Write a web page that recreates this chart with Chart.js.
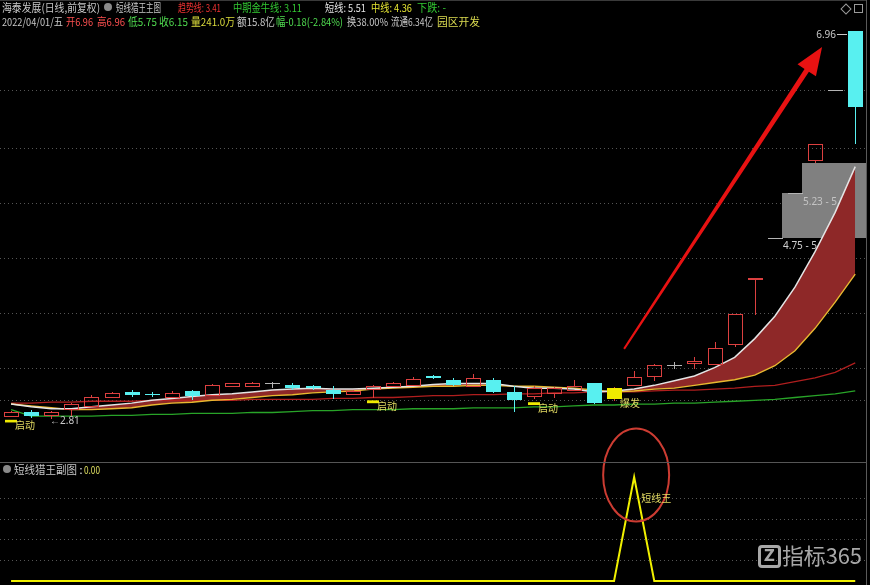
<!DOCTYPE html>
<html lang="zh-CN">
<head>
<meta charset="utf-8">
<title>海泰发展 短线猎王</title>
<script src="https://cdn.jsdelivr.net/npm/chart.js"></script>
<style>
html,body{margin:0;padding:0;background:#000;}
#wrap{position:relative;width:870px;height:585px;background:#000;overflow:hidden;}
#main{position:absolute;left:0;top:0;}
#sub{position:absolute;left:0;top:420px;}
.seg{position:absolute;font-family:"Noto Sans CJK SC","Noto Sans",sans-serif;font-size:11px;line-height:12px;white-space:nowrap;transform-origin:0 0;}
.ln{position:absolute;}
.dot{position:absolute;width:8px;height:8px;border-radius:50%;background:#8a8a8a;}
</style>
</head>
<body>
<div id="wrap">
  <canvas id="main" width="870" height="462"></canvas>
  <canvas id="sub" width="870" height="165"></canvas>
  <div class="ln" style="left:0;top:0;width:867px;height:1px;background:#3a3a3a"></div>
  <div class="ln" style="left:0;top:462px;width:867px;height:1px;background:#555"></div>
  <div class="ln" style="left:866px;top:0;width:1px;height:585px;background:#5a5a5a"></div>
  <div class="dot" style="left:104px;top:3px"></div>
  <div class="dot" style="left:3px;top:465px"></div>
  <div class="ln" style="left:842px;top:5px;width:6px;height:6px;border:1px solid #9a9a9a;transform:rotate(45deg)"></div>
  <div class="ln" style="left:854px;top:4px;width:7px;height:7px;border:1px solid #9a9a9a"></div>
  <div class="ln" style="left:758px;top:545px;width:17px;height:17px;border:3px solid #a8a8a8;border-radius:4px;color:#a8a8a8;font:bold 15px 'DejaVu Sans',sans-serif;line-height:17px;text-align:center">Z</div>
  <div id="hdr"></div>
</div>
<script>
// ---------------- data ----------------
const dates = ['2022/01/26','2022/01/27','2022/01/28','2022/02/07','2022/02/08','2022/02/09','2022/02/10','2022/02/11',
  '2022/02/14','2022/02/15','2022/02/16','2022/02/17','2022/02/18','2022/02/21','2022/02/22','2022/02/23','2022/02/24',
  '2022/02/25','2022/02/28','2022/03/01','2022/03/02','2022/03/03','2022/03/04','2022/03/07','2022/03/08','2022/03/09',
  '2022/03/10','2022/03/11','2022/03/14','2022/03/15','2022/03/16','2022/03/17','2022/03/18','2022/03/21','2022/03/22',
  '2022/03/23','2022/03/24','2022/03/25','2022/03/28','2022/03/29','2022/03/30','2022/03/31','2022/04/01'];
const openP  = [2.84,2.89,2.85,2.92,2.95,3.05,3.10,3.08,3.05,3.11,3.07,3.16,3.16,3.19,3.17,3.16,3.12,3.08,3.13,3.16,3.17,3.27,3.23,3.16,3.23,3.10,3.06,3.09,3.12,3.19,3.03,3.17,3.27,3.39,3.41,3.40,3.61,4.31,4.75,5.23,5.58,6.33,6.96];
const highP  = [2.90,2.91,2.90,2.98,3.07,3.10,3.12,3.10,3.11,3.12,3.18,3.20,3.21,3.21,3.19,3.17,3.16,3.12,3.17,3.21,3.26,3.28,3.25,3.29,3.25,3.16,3.16,3.15,3.23,3.20,3.15,3.32,3.40,3.42,3.47,3.63,3.93,4.32,4.75,5.23,5.75,6.33,6.96];
const lowP   = [2.83,2.82,2.81,2.84,2.94,3.04,3.05,3.05,3.04,3.01,3.06,3.15,3.15,3.14,3.12,3.12,3.02,3.07,3.04,3.15,3.16,3.24,3.16,3.15,3.09,2.89,3.02,3.04,3.11,2.97,3.00,3.16,3.22,3.34,3.34,3.39,3.58,3.92,4.75,5.23,5.55,6.33,5.75];
const closeP = [2.88,2.84,2.89,2.97,3.05,3.09,3.07,3.07,3.09,3.06,3.17,3.19,3.19,3.19,3.14,3.14,3.08,3.11,3.16,3.19,3.24,3.25,3.17,3.25,3.10,3.01,3.14,3.14,3.16,2.98,3.14,3.26,3.39,3.39,3.43,3.57,3.93,4.32,4.75,5.23,5.75,6.33,6.15];
const shortLine = [2.97,2.94,2.92,2.92,2.94,2.96,2.98,3.01,3.03,3.05,3.07,3.08,3.10,3.12,3.13,3.14,3.13,3.13,3.14,3.15,3.16,3.18,3.19,3.19,3.19,3.16,3.14,3.14,3.13,3.10,3.11,3.13,3.17,3.22,3.27,3.36,3.47,3.67,3.91,4.22,4.60,5.02,5.51];
const midLine   = [2.97,2.95,2.93,2.91,2.91,2.92,2.93,2.96,2.98,2.99,3.01,3.02,3.04,3.06,3.07,3.09,3.10,3.11,3.13,3.14,3.15,3.16,3.16,3.17,3.17,3.16,3.16,3.15,3.14,3.12,3.10,3.11,3.13,3.14,3.17,3.20,3.23,3.28,3.38,3.54,3.78,4.06,4.36];
const trendLine = [2.98,2.98,2.99,2.99,3.00,3.00,3.00,3.01,3.01,3.01,3.01,3.01,3.02,3.02,3.02,3.02,3.03,3.03,3.04,3.04,3.05,3.06,3.06,3.07,3.07,3.08,3.08,3.09,3.09,3.10,3.10,3.10,3.11,3.12,3.12,3.13,3.14,3.16,3.17,3.21,3.25,3.31,3.41];
const bullLine  = [2.91,2.84,2.84,2.84,2.84,2.85,2.85,2.86,2.86,2.87,2.87,2.87,2.88,2.88,2.89,2.90,2.90,2.91,2.91,2.91,2.92,2.92,2.92,2.93,2.93,2.93,2.94,2.94,2.95,2.96,2.96,2.97,2.97,2.98,2.98,2.99,3.00,3.01,3.02,3.04,3.06,3.08,3.11];
const startSignal = [0, 18, 26];   // 启动
const burstSignal = [30];          // 爆发
const kingSignal = [0,0,0,0,0,0,0,0,0,0,0,0,0,0,0,0,0,0,0,0,0,0,0,0,0,0,0,0,0,0,0,1,0,0,0,0,0,0,0,0,0,0,0]; // 短线猎王副图
const gapFrom = [38, 39];
const gapLow  = [4.75, 5.23];
const gapHigh = [5.23, 5.55];
const gridPrices = [6.33, 5.71, 5.12, 4.53, 3.94, 3.36, 3.01];
const subGridLevels = [0.2, 0.4, 0.6, 0.8];
const volumeText = '241.0万', amountText = '15.8亿', turnoverText = '38.00%', floatText = '6.34亿', sectorText = '园区开发';

// ---------------- helpers ----------------
const CJK = '"Noto Sans CJK SC","Noto Sans",sans-serif';
const UP = '#dc4040', DOWN = '#58f0f0', FLAT = '#b4b4b4', SIGNAL = '#f0ea00', SIGTXT = '#e2da62';
const last = a => a[a.length - 1];

function dotted(ctx, y, x0, x1) {
  ctx.save();
  ctx.strokeStyle = '#555'; ctx.lineWidth = 1; ctx.setLineDash([1, 3]);
  ctx.beginPath(); ctx.moveTo(x0, Math.round(y) + 0.5); ctx.lineTo(x1, Math.round(y) + 0.5); ctx.stroke();
  ctx.restore();
}

const bgPlugin = {
  id: 'bgMain',
  beforeDraw(chart) {
    const {ctx, scales: {x, y}} = chart;
    gridPrices.forEach(p => dotted(ctx, y.getPixelForValue(p), 0, 866));
    ctx.save();
    gapFrom.forEach((idx, k) => {
      const x0 = Math.round(x.getPixelForValue(idx)) + 7;
      const yTop = Math.round(y.getPixelForValue(gapHigh[k]));
      const yBot = Math.round(y.getPixelForValue(gapLow[k]));
      ctx.fillStyle = '#808080';
      ctx.fillRect(x0, yTop, 867 - x0, yBot - yTop);
    });
    ctx.font = '10px "Noto Sans",sans-serif';
    ctx.textBaseline = 'middle';
    gapFrom.forEach((idx, k) => {
      const x0 = Math.round(x.getPixelForValue(idx)) + 8;
      ctx.fillStyle = k === 0 ? '#d0d0d0' : '#c4c4c4';
      ctx.fillText(gapLow[k].toFixed(2) + ' - ' + gapHigh[k].toFixed(2), x0, y.getPixelForValue(gapLow[k]) + 9);
    });
    ctx.restore();
  }
};

const candlePlugin = {
  id: 'candles',
  afterDatasetsDraw(chart) {
    const {ctx, scales: {x, y}} = chart;
    ctx.save();
    ctx.lineWidth = 1;
    for (let i = 0; i < openP.length; i++) {
      const cx = Math.round(x.getPixelForValue(i));
      const yO = Math.round(y.getPixelForValue(openP[i])), yC = Math.round(y.getPixelForValue(closeP[i]));
      const yH = Math.round(y.getPixelForValue(highP[i])), yL = Math.round(y.getPixelForValue(lowP[i]));
      const top = Math.min(yO, yC), bot = Math.max(yO, yC);
      if (closeP[i] > openP[i]) {
        ctx.strokeStyle = UP;
        ctx.strokeRect(cx - 7 + 0.5, top + 0.5, 14, Math.max(bot - top, 1));
        ctx.beginPath();
        if (yH < top) { ctx.moveTo(cx + 0.5, yH); ctx.lineTo(cx + 0.5, top); }
        if (yL > bot + 1) { ctx.moveTo(cx + 0.5, bot + 1); ctx.lineTo(cx + 0.5, yL); }
        ctx.stroke();
      } else if (closeP[i] < openP[i]) {
        ctx.strokeStyle = DOWN; ctx.fillStyle = DOWN;
        ctx.beginPath(); ctx.moveTo(cx + 0.5, yH); ctx.lineTo(cx + 0.5, yL); ctx.stroke();
        ctx.fillRect(cx - 7, top, 15, Math.max(bot - top, 1));
      } else {
        ctx.strokeStyle = FLAT;
        ctx.beginPath();
        ctx.moveTo(cx - 7, top + 0.5); ctx.lineTo(cx + 8, top + 0.5);
        if (yL > yH) { ctx.moveTo(cx + 0.5, yH); ctx.lineTo(cx + 0.5, yL); }
        ctx.stroke();
      }
    }
    ctx.font = '10px ' + CJK;
    ctx.textBaseline = 'middle';
    burstSignal.forEach(i => {
      const cx = Math.round(x.getPixelForValue(i));
      const yO = Math.round(y.getPixelForValue(openP[i])), yC = Math.round(y.getPixelForValue(closeP[i]));
      ctx.fillStyle = SIGNAL;
      ctx.fillRect(cx - 7, Math.min(yO, yC), 15, Math.abs(yO - yC) + 1);
      ctx.fillStyle = SIGTXT;
      ctx.fillText('爆发', cx + 6, y.getPixelForValue(lowP[i]) + 2);
    });
    startSignal.forEach(i => {
      const cx = Math.round(x.getPixelForValue(i));
      const y1 = y.getPixelForValue(lowP[i] * 0.99), y2 = y.getPixelForValue(lowP[i] * 0.98);
      ctx.fillStyle = SIGNAL;
      ctx.fillRect(cx - 6, y1, 12, y2 - y1);
      ctx.fillStyle = SIGTXT;
      ctx.fillText('启动', cx + 4, y1 + 5.5);
    });
    ctx.font = '10px "Noto Sans",sans-serif';
    ctx.fillStyle = '#c8c8c8';
    const lo = Math.min(...lowP), li = lowP.indexOf(lo);
    ctx.fillText('←' + lo.toFixed(2), Math.round(x.getPixelForValue(li)) - 1, y.getPixelForValue(lo) + 2);
    const hi = Math.max(...highP), hiI = highP.indexOf(hi);
    const hx = Math.round(x.getPixelForValue(hiI)), hy = Math.round(y.getPixelForValue(hi)) + 3;
    ctx.strokeStyle = '#c8c8c8';
    ctx.beginPath(); ctx.moveTo(hx - 18, hy + 0.5); ctx.lineTo(hx - 8, hy + 0.5); ctx.stroke();
    ctx.textAlign = 'right';
    ctx.fillText(hi.toFixed(2), hx - 19, hy + 1);
    ctx.restore();
  },
  afterDraw(chart) {
    const {ctx, scales: {x, y}} = chart;
    const p0 = {x: x.getPixelForValue(30.5), y: y.getPixelForValue(3.56)};
    const p1 = {x: x.getPixelForValue(40.35), y: y.getPixelForValue(6.79)};
    const a = Math.atan2(p1.y - p0.y, p1.x - p0.x);
    const c = Math.cos(a), s = Math.sin(a);
    const headLen = 28, headHalf = 11;
    const bx = p1.x - headLen * c, by = p1.y - headLen * s;
    ctx.save();
    ctx.fillStyle = '#e81212';
    ctx.beginPath();
    ctx.moveTo(p0.x - 1 * s, p0.y + 1 * c);
    ctx.lineTo(bx - 2.6 * s, by + 2.6 * c);
    ctx.lineTo(bx - headHalf * s, by + headHalf * c);
    ctx.lineTo(p1.x, p1.y);
    ctx.lineTo(bx + headHalf * s, by - headHalf * c);
    ctx.lineTo(bx + 2.6 * s, by - 2.6 * c);
    ctx.lineTo(p0.x + 1 * s, p0.y - 1 * c);
    ctx.closePath();
    ctx.fill();
    ctx.restore();
  }
};

const mainChart = new Chart(document.getElementById('main'), {
  type: 'line',
  data: {
    labels: dates,
    datasets: [
      {label: '短线', data: shortLine, borderColor: '#e4e4e4', borderWidth: 1.5, pointRadius: 0,
       fill: {target: '+1', above: 'rgb(142,40,40)', below: 'rgba(120,120,120,0.7)'}},
      {label: '中线', data: midLine, borderColor: '#e8b830', borderWidth: 1.4, pointRadius: 0, fill: false},
      {label: '趋势线', data: trendLine, borderColor: '#b01e1e', borderWidth: 1.3, pointRadius: 0, fill: false},
      {label: '中期金牛线', data: bullLine, borderColor: '#28a428', borderWidth: 1.3, pointRadius: 0, fill: false}
    ]
  },
  options: {
    responsive: false, animation: false, events: [],
    layout: {padding: {left: 1, right: 4.7, top: 3, bottom: 3}},
    scales: {
      x: {display: false, offset: true},
      y: {display: false, min: 2.3824, max: 7.2595}
    },
    plugins: {legend: {display: false}, tooltip: {enabled: false}, filler: {drawTime: 'beforeDatasetsDraw'}}
  },
  plugins: [bgPlugin, candlePlugin]
});

const subPlugin = {
  id: 'subDeco',
  beforeDraw(chart) {
    const {ctx, scales: {y}} = chart;
    subGridLevels.forEach(v => dotted(ctx, y.getPixelForValue(v), 0, 866));
  },
  afterDraw(chart) {
    const {ctx, scales: {x, y}} = chart;
    const k = kingSignal.indexOf(Math.max(...kingSignal));
    const px = x.getPixelForValue(k), py = y.getPixelForValue(kingSignal[k]);
    ctx.save();
    ctx.strokeStyle = '#cc3c32'; ctx.lineWidth = 2;
    ctx.beginPath(); ctx.ellipse(px + 2, py - 2, 33, 46.5, 0, 0, Math.PI * 2); ctx.stroke();
    ctx.fillStyle = SIGTXT; ctx.font = '10px ' + CJK; ctx.textBaseline = 'middle';
    ctx.fillText('短线王', px + 7, y.getPixelForValue(0.8));
    ctx.restore();
  }
};

const subChart = new Chart(document.getElementById('sub'), {
  type: 'line',
  data: {labels: dates, datasets: [{label: '短线猎王副图', data: kingSignal, borderColor: '#f0f000', borderWidth: 2, pointRadius: 0, fill: false}]},
  options: {
    responsive: false, animation: false, events: [],
    layout: {padding: {left: 1, right: 4.7, top: 43, bottom: 1}},
    scales: {x: {display: false, offset: true}, y: {display: false, min: -0.0288, max: 1.1346}},
    plugins: {legend: {display: false}, tooltip: {enabled: false}}
  },
  plugins: [subPlugin]
});

// ---------------- header texts ----------------
const hdr = document.getElementById('hdr');
function seg(x0, x1, top, text, color, size) {
  const s = document.createElement('span');
  s.className = 'seg'; s.textContent = text;
  s.style.left = x0 + 'px'; s.style.top = top + 'px'; s.style.color = color;
  if (size) { s.style.fontSize = size + 'px'; s.style.lineHeight = (size + 2) + 'px'; }
  hdr.appendChild(s);
  const w = s.getBoundingClientRect().width;
  if (w > 0) s.style.transform = 'scaleX(' + ((x1 - x0) / w).toFixed(3) + ')';
}
const n = openP.length - 1;
const chg = closeP[n] - closeP[n - 1];
seg(2, 100, 1, '海泰发展(日线,前复权)', '#c8c8c8');
seg(116, 161, 1, '短线猎王主图', '#c8c8c8');
seg(178, 221, 1, '趋势线: ' + last(trendLine).toFixed(2), '#f03232');
seg(233, 302, 1, '中期金牛线: ' + last(bullLine).toFixed(2), '#32c832');
seg(325, 366, 1, '短线: ' + last(shortLine).toFixed(2), '#e6e6e6');
seg(371, 412, 1, '中线: ' + last(midLine).toFixed(2), '#e6e632');
seg(417, 446, 1, '下跌: -', '#32c832');
seg(2, 63, 15, last(dates) + '/五', '#c8c8c8');
seg(66, 93, 15, '开' + openP[n].toFixed(2), '#ff5050');
seg(97, 125, 15, '高' + highP[n].toFixed(2), '#ff5050');
seg(128, 157, 15, '低' + lowP[n].toFixed(2), '#50dc50');
seg(159, 188, 15, '收' + closeP[n].toFixed(2), '#50dc50');
seg(191, 235, 15, '量' + volumeText, '#dcdc3c');
seg(237, 275, 15, '额' + amountText, '#c8c8c8');
seg(276, 343, 15, '幅' + chg.toFixed(2) + '(' + (chg / closeP[n - 1] * 100).toFixed(2) + '%)', '#50dc50');
seg(347, 388, 15, '换' + turnoverText, '#c8c8c8');
seg(391, 433, 15, '流通' + floatText, '#c8c8c8');
seg(437, 480, 15, sectorText, '#dcdc50');
seg(14, 77, 463, '短线猎王副图', '#c8c8c8');
seg(79, 83, 463, ':', '#c8c8c8');
seg(84, 100, 463, last(kingSignal).toFixed(2), '#e0e060');
seg(782, 862, 542, '指标365', '#a8a8a8', 22);
</script>
</body>
</html>
